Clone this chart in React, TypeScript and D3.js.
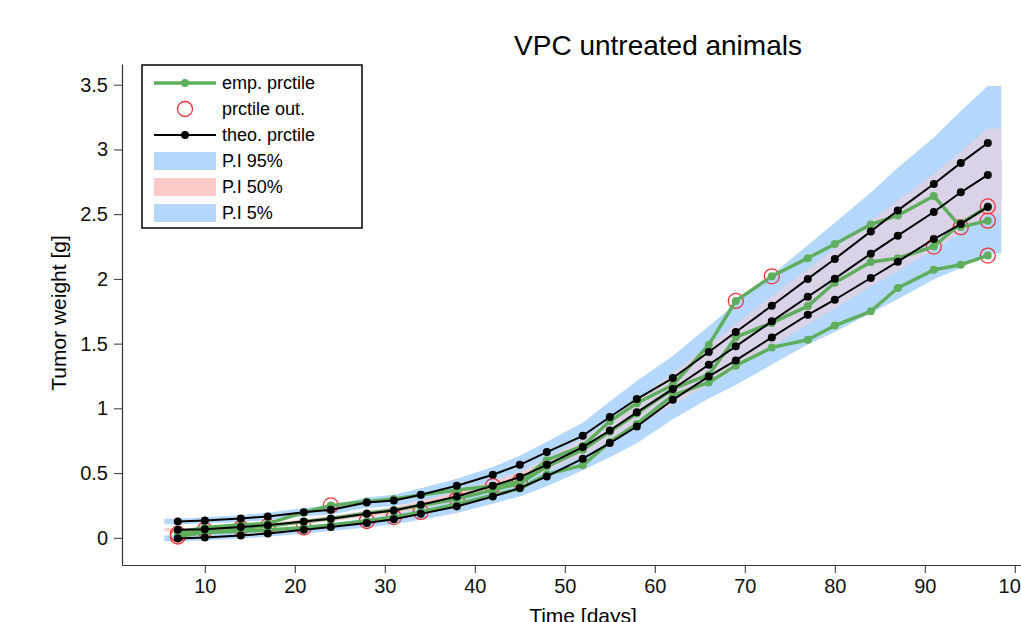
import React, { useEffect, useRef } from "react";
import * as d3 from "d3";

// observation days
const days = [7, 10, 14, 17, 21, 24, 28, 31, 34, 38, 42, 45, 48, 52, 55, 58, 62, 66, 69, 73, 77, 80, 84, 87, 91, 94, 97];

// theoretical percentiles (black)
const theoHigh = [0.126, 0.134, 0.149, 0.165, 0.198, 0.216, 0.272, 0.288, 0.332, 0.402, 0.487, 0.564, 0.662, 0.788, 0.933, 1.072, 1.234, 1.435, 1.59, 1.793, 2.0, 2.154, 2.367, 2.529, 2.733, 2.896, 3.05];
const theoMid = [0.062, 0.067, 0.083, 0.098, 0.126, 0.147, 0.185, 0.211, 0.255, 0.319, 0.402, 0.469, 0.564, 0.701, 0.829, 0.969, 1.149, 1.337, 1.479, 1.672, 1.862, 2.002, 2.195, 2.334, 2.517, 2.669, 2.803];
const theoLow = [-0.005, 0.003, 0.018, 0.033, 0.062, 0.083, 0.115, 0.144, 0.185, 0.242, 0.319, 0.384, 0.474, 0.611, 0.732, 0.86, 1.066, 1.247, 1.37, 1.548, 1.723, 1.839, 2.007, 2.133, 2.308, 2.424, 2.556];

// empirical percentiles (green)
const empHigh = [0.04, 0.08, 0.1, 0.11, 0.196, 0.25, 0.28, 0.3, 0.33, 0.37, 0.4, 0.435, 0.6, 0.71, 0.9, 1.04, 1.18, 1.49, 1.83, 2.02, 2.16, 2.27, 2.42, 2.49, 2.64, 2.4, 2.45];
const empMid = [0.03, 0.06, 0.075, 0.09, 0.125, 0.15, 0.19, 0.215, 0.25, 0.3, 0.37, 0.42, 0.55, 0.68, 0.82, 0.96, 1.15, 1.26, 1.55, 1.66, 1.79, 1.97, 2.13, 2.16, 2.25, 2.43, 2.56];
const empLow = [0.01, 0.04, 0.05, 0.06, 0.08, 0.1, 0.13, 0.16, 0.2, 0.26, 0.33, 0.38, 0.49, 0.56, 0.74, 0.88, 1.1, 1.2, 1.33, 1.47, 1.53, 1.64, 1.75, 1.93, 2.07, 2.11, 2.18];

// prediction intervals
const pi95Lo = [0.104, 0.11, 0.123, 0.137, 0.166, 0.181, 0.232, 0.243, 0.282, 0.347, 0.427, 0.494, 0.582, 0.688, 0.813, 0.932, 1.064, 1.235, 1.37, 1.553, 1.74, 1.874, 2.067, 2.199, 2.373, 2.496, 2.61];
const pi95Hi = [0.148, 0.158, 0.175, 0.193, 0.23, 0.251, 0.312, 0.333, 0.382, 0.457, 0.547, 0.634, 0.742, 0.888, 1.053, 1.212, 1.404, 1.635, 1.81, 2.033, 2.26, 2.434, 2.667, 2.859, 3.093, 3.296, 3.49];
const pi50Lo = [0.05, 0.054, 0.069, 0.083, 0.109, 0.128, 0.163, 0.186, 0.227, 0.287, 0.365, 0.427, 0.514, 0.636, 0.749, 0.869, 1.029, 1.187, 1.309, 1.482, 1.652, 1.772, 1.945, 2.064, 2.227, 2.359, 2.5];
const pi50Hi = [0.074, 0.08, 0.097, 0.113, 0.143, 0.166, 0.207, 0.236, 0.283, 0.351, 0.439, 0.511, 0.614, 0.766, 0.909, 1.069, 1.269, 1.487, 1.649, 1.862, 2.072, 2.232, 2.445, 2.604, 2.807, 2.979, 3.16];
const pi5Lo = [-0.027, -0.02, -0.006, 0.008, 0.034, 0.053, 0.08, 0.104, 0.14, 0.192, 0.264, 0.319, 0.399, 0.521, 0.622, 0.73, 0.916, 1.077, 1.18, 1.338, 1.493, 1.589, 1.737, 1.843, 1.998, 2.084, 2.196];
const pi5Hi = [0.017, 0.026, 0.042, 0.058, 0.09, 0.113, 0.15, 0.184, 0.23, 0.292, 0.374, 0.449, 0.549, 0.701, 0.842, 0.99, 1.216, 1.417, 1.56, 1.758, 1.953, 2.089, 2.277, 2.423, 2.618, 2.764, 2.916];

// days where an empirical percentile falls outside its interval
const outHigh = [24, 42, 45, 69, 73, 94, 97];
const outMid = [7, 10, 14, 17, 38, 91, 97];
const outLow = [7, 21, 28, 31, 34, 97];

const xTicks = [10, 20, 30, 40, 50, 60, 70, 80, 90, 100];
const yTicks = [0, 0.5, 1, 1.5, 2, 2.5, 3, 3.5];
const legendLabels = ["emp. prctile", "prctile out.", "theo. prctile", "P.I 95%", "P.I 50%", "P.I 5%"];

const BLUE = "#b3d8fb";
const PINK = "#fdcaca";
const LAV = "#dad3e8";
const GREEN = "#5fae5d";
const RED = "#f0323a";
const FONT = "Liberation Sans, Arial, Helvetica, sans-serif";

export default function App() {
  const ref = useRef<SVGSVGElement>(null);

  useEffect(() => {
    const svg = d3.select(ref.current);
    svg.selectAll("*").remove();

    const x = d3.scaleLinear().domain([0.8, 112]).range([122, 122 + 111.2 * 9]);
    const y = d3.scaleLinear().domain([-0.21, 3.66]).range([565, 64]);

    // band rows, held flat 1.5 days past the first/last bin
    const band = (lo: number[], hi: number[]) => {
      const rows = days.map((t, i) => ({ t, lo: lo[i], hi: hi[i] }));
      const first = rows[0], last = rows[rows.length - 1];
      return [{ ...first, t: first.t - 1.5 }, ...rows, { ...last, t: last.t + 1.5 }];
    };
    const area = d3.area<any>().x(d => x(d.t)).y0(d => y(d.lo)).y1(d => y(d.hi));

    const b95 = band(pi95Lo, pi95Hi);
    const b50 = band(pi50Lo, pi50Hi);
    const b5 = band(pi5Lo, pi5Hi);

    const clip = svg.append("defs").append("clipPath").attr("id", "blueclip");
    clip.append("path").attr("d", area(b95));
    clip.append("path").attr("d", area(b5));

    svg.append("path").attr("d", area(b95)).attr("fill", BLUE);
    svg.append("path").attr("d", area(b5)).attr("fill", BLUE);
    svg.append("path").attr("d", area(b50)).attr("fill", PINK);
    svg.append("path").attr("d", area(b50)).attr("fill", LAV).attr("clip-path", "url(#blueclip)");

    // outliers
    const outPts: [number, number][] = [];
    outHigh.forEach(t => outPts.push([t, empHigh[days.indexOf(t)]]));
    outMid.forEach(t => outPts.push([t, empMid[days.indexOf(t)]]));
    outLow.forEach(t => outPts.push([t, empLow[days.indexOf(t)]]));
    svg.append("g").selectAll("circle").data(outPts).enter().append("circle")
      .attr("cx", d => x(d[0])).attr("cy", d => y(d[1])).attr("r", 7.5)
      .attr("fill", "none").attr("stroke", RED).attr("stroke-width", 1.3);

    const line = d3.line<number>().x((d, i) => x(days[i])).y(d => y(d));

    const drawSeries = (vals: number[], color: string, width: number) => {
      const g = svg.append("g");
      g.append("path").attr("d", line(vals)).attr("fill", "none")
        .attr("stroke", color).attr("stroke-width", width).attr("stroke-linejoin", "round");
      g.selectAll("circle").data(vals).enter().append("circle")
        .attr("cx", (d, i) => x(days[i])).attr("cy", d => y(d)).attr("r", 4).attr("fill", color);
    };
    [empHigh, empMid, empLow].forEach(v => drawSeries(v, GREEN, 3.5));
    [theoHigh, theoMid, theoLow].forEach(v => drawSeries(v, "#000", 2));

    // axes
    const gx = svg.append("g").attr("transform", "translate(0,565)")
      .call(d3.axisBottom(x).tickValues(xTicks).tickSize(8).tickPadding(6).tickSizeOuter(0).tickFormat(d3.format("d")));
    const gy = svg.append("g").attr("transform", "translate(122,0)")
      .call(d3.axisLeft(y).tickValues(yTicks).tickSize(8).tickPadding(6).tickSizeOuter(0).tickFormat(d => String(d)));
    [gx, gy].forEach(g => {
      g.attr("font-size", 20).attr("font-family", FONT);
      g.selectAll("line").attr("stroke", "#333");
      g.select(".domain").attr("stroke", "#333").attr("stroke-width", 1.2);
      g.selectAll("text").attr("fill", "#111");
    });

    svg.append("text").attr("x", 658).attr("y", 55).attr("text-anchor", "middle")
      .attr("font-family", FONT).attr("font-size", 28).text("VPC untreated animals");
    svg.append("text").attr("transform", "translate(66,313) rotate(-90)").attr("text-anchor", "middle")
      .attr("font-family", FONT).attr("font-size", 21).text("Tumor weight [g]");
    svg.append("text").attr("x", 583).attr("y", 623).attr("text-anchor", "middle")
      .attr("font-family", FONT).attr("font-size", 21).text("Time [days]");

    // legend
    const lg = svg.append("g").attr("font-family", FONT).attr("font-size", 18);
    lg.append("rect").attr("x", 142).attr("y", 65).attr("width", 220).attr("height", 163)
      .attr("fill", "#fff").attr("stroke", "#000").attr("stroke-width", 1.5);
    const rowY = (i: number) => 83 + i * 26;
    legendLabels.forEach((label, i) => {
      const cy = rowY(i);
      if (i === 0 || i === 2) {
        const c = i === 0 ? GREEN : "#000";
        lg.append("line").attr("x1", 154).attr("x2", 216).attr("y1", cy).attr("y2", cy)
          .attr("stroke", c).attr("stroke-width", i === 0 ? 3.5 : 2);
        lg.append("circle").attr("cx", 185).attr("cy", cy).attr("r", 4).attr("fill", c);
      } else if (i === 1) {
        lg.append("circle").attr("cx", 185).attr("cy", cy).attr("r", 7.5)
          .attr("fill", "none").attr("stroke", RED).attr("stroke-width", 1.3);
      } else {
        lg.append("rect").attr("x", 154).attr("y", cy - 9).attr("width", 62).attr("height", 18)
          .attr("fill", i === 4 ? PINK : BLUE);
      }
      lg.append("text").attr("x", 222).attr("y", cy).attr("dy", "0.35em").text(label);
    });
  }, []);

  return (
    <svg ref={ref} width={1021} height={622}
      style={{ position: "absolute", left: 0, top: 0, background: "#fff" }} />
  );
}
